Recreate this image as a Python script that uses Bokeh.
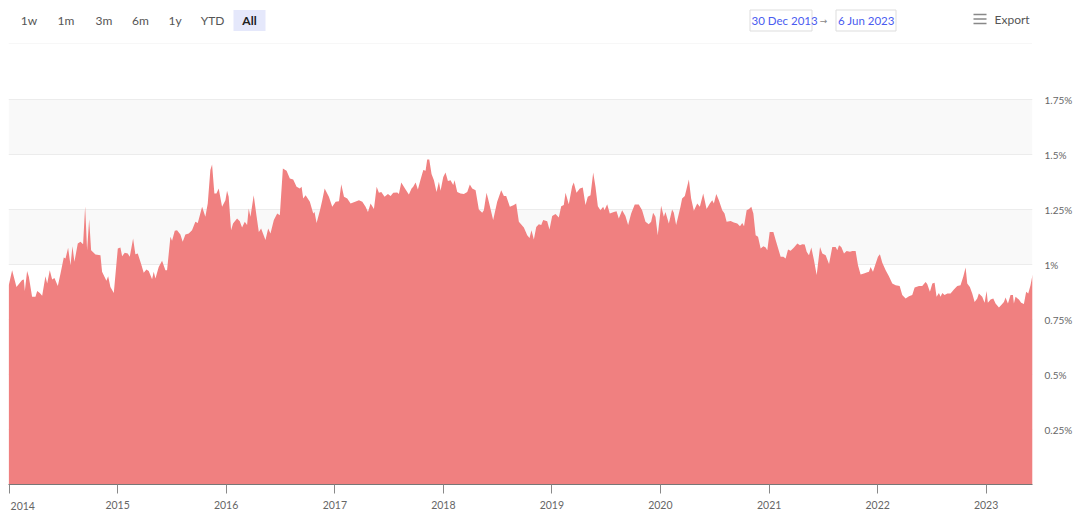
import math
from datetime import datetime
from bokeh.plotting import figure
from bokeh.layouts import column
from bokeh.models import Range1d, FixedTicker, CustomJSTickFormatter, Label, ColumnDataSource
from bokeh.core.properties import value
from bokeh.embed import file_html
from bokeh.resources import INLINE

# ---------------- data (decimal years, values in %) ----------------
dates_a = [
    2013.997, 2014.028, 2014.068, 2014.120, 2014.136, 2014.145, 2014.166, 2014.182, 2014.212, 2014.243,
    2014.259, 2014.283, 2014.305, 2014.335, 2014.351, 2014.375, 2014.397, 2014.418, 2014.449, 2014.474,
    2014.504, 2014.520, 2014.544, 2014.566, 2014.584, 2014.602, 2014.633, 2014.658, 2014.682, 2014.701,
    2014.719, 2014.738, 2014.756, 2014.796, 2014.842, 2014.857, 2014.897, 2014.913, 2014.934, 2014.965,
    2015.002, 2015.026, 2015.042, 2015.066, 2015.094, 2015.112, 2015.143, 2015.164, 2015.186, 2015.217,
    2015.241, 2015.266, 2015.287, 2015.318, 2015.333, 2015.349, 2015.379, 2015.410, 2015.441, 2015.456,
    2015.487, 2015.502, 2015.527, 2015.548, 2015.579, 2015.600, 2015.625, 2015.656, 2015.686, 2015.717,
    2015.739, 2015.779, 2015.809, 2015.831, 2015.855, 2015.871, 2015.892, 2015.911, 2015.932, 2015.963,
    2015.994, 2016.009, 2016.024, 2016.046, 2016.064, 2016.101, 2016.126, 2016.147, 2016.172, 2016.193,
    2016.208, 2016.224, 2016.254, 2016.279, 2016.301, 2016.322, 2016.362, 2016.387, 2016.408, 2016.439,
    2016.470, 2016.494, 2016.522, 2016.556, 2016.586, 2016.617, 2016.648, 2016.678, 2016.694, 2016.709,
    2016.731, 2016.770, 2016.801, 2016.813, 2016.832, 2016.863, 2016.884, 2016.906, 2016.945, 2016.976,
    2017.007, 2017.038, 2017.059, 2017.084, 2017.114, 2017.145,
]
values_a = [
    0.906, 0.974, 0.898, 0.929, 0.932, 0.880, 0.971, 0.944, 0.853, 0.853,
    0.880, 0.871, 0.858, 0.947, 0.914, 0.974, 0.932, 0.939, 0.902, 0.959,
    1.032, 1.027, 1.076, 0.997, 1.083, 1.012, 1.095, 1.103, 1.092, 1.265,
    1.065, 1.206, 1.065, 1.045, 1.042, 0.967, 0.926, 0.947, 0.898, 0.871,
    1.073, 1.077, 1.038, 1.053, 1.050, 1.035, 1.118, 1.047, 1.050, 1.002,
    0.962, 0.977, 0.971, 0.933, 0.967, 0.936, 0.989, 1.017, 0.974, 0.974,
    1.126, 1.108, 1.153, 1.156, 1.136, 1.103, 1.136, 1.141, 1.156, 1.194,
    1.189, 1.262, 1.217, 1.277, 1.429, 1.455, 1.323, 1.323, 1.345, 1.262,
    1.292, 1.335, 1.308, 1.156, 1.186, 1.209, 1.197, 1.168, 1.194, 1.179,
    1.255, 1.217, 1.315, 1.224, 1.148, 1.164, 1.111, 1.164, 1.141, 1.202,
    1.232, 1.224, 1.436, 1.426, 1.391, 1.386, 1.353, 1.345, 1.353, 1.300,
    1.315, 1.285, 1.232, 1.239, 1.189, 1.247, 1.292, 1.345, 1.308, 1.262,
    1.285, 1.288, 1.365, 1.308, 1.300, 1.277,
]
dates_b = [
    2017.222, 2017.253, 2017.283, 2017.305, 2017.329, 2017.360, 2017.385, 2017.406, 2017.428, 2017.458,
    2017.489, 2017.514, 2017.538, 2017.575, 2017.590, 2017.612, 2017.652, 2017.682, 2017.707, 2017.722,
    2017.744, 2017.765, 2017.790, 2017.815, 2017.836, 2017.851, 2017.870, 2017.891, 2017.913, 2017.937,
    2017.959, 2017.974, 2017.999, 2018.020, 2018.042, 2018.066, 2018.091, 2018.103, 2018.128, 2018.158,
    2018.189, 2018.220, 2018.244, 2018.266, 2018.297, 2018.327, 2018.358, 2018.373, 2018.398, 2018.419,
    2018.459, 2018.496, 2018.533, 2018.558, 2018.579, 2018.613, 2018.650, 2018.671, 2018.696, 2018.742,
    2018.773, 2018.794, 2018.812, 2018.834, 2018.856, 2018.880, 2018.902, 2018.920, 2018.957, 2018.978,
    2019.003, 2019.034, 2019.064, 2019.086, 2019.110, 2019.126, 2019.156, 2019.187, 2019.202, 2019.227,
    2019.258, 2019.285, 2019.310, 2019.331, 2019.356, 2019.381, 2019.402, 2019.424, 2019.448, 2019.473,
    2019.485, 2019.510, 2019.534, 2019.571, 2019.596, 2019.617, 2019.648, 2019.678, 2019.703, 2019.731,
    2019.764, 2019.801, 2019.832, 2019.863, 2019.893, 2019.915, 2019.933, 2019.955, 2019.976, 2020.007,
    2020.032, 2020.047, 2020.078, 2020.108, 2020.124, 2020.145, 2020.185, 2020.200, 2020.225, 2020.262,
    2020.283, 2020.308, 2020.339, 2020.363,
]
values_b = [
    1.292, 1.285, 1.262, 1.239, 1.277, 1.252, 1.353, 1.326, 1.330, 1.308,
    1.320, 1.311, 1.326, 1.327, 1.320, 1.373, 1.341, 1.318, 1.345, 1.353,
    1.373, 1.341, 1.386, 1.429, 1.426, 1.477, 1.477, 1.411, 1.383, 1.330,
    1.376, 1.335, 1.398, 1.418, 1.380, 1.383, 1.361, 1.383, 1.330, 1.323,
    1.320, 1.330, 1.364, 1.345, 1.338, 1.250, 1.235, 1.247, 1.326, 1.285,
    1.202, 1.285, 1.338, 1.311, 1.311, 1.262, 1.270, 1.277, 1.194, 1.168,
    1.133, 1.121, 1.156, 1.114, 1.171, 1.183, 1.179, 1.202, 1.197, 1.159,
    1.220, 1.229, 1.214, 1.265, 1.270, 1.326, 1.274, 1.356, 1.373, 1.326,
    1.345, 1.350, 1.270, 1.308, 1.315, 1.418, 1.353, 1.265, 1.247, 1.262,
    1.247, 1.274, 1.232, 1.239, 1.242, 1.209, 1.247, 1.220, 1.179, 1.232,
    1.273, 1.273, 1.247, 1.194, 1.183, 1.194, 1.235, 1.217, 1.133, 1.267,
    1.217, 1.239, 1.186, 1.250, 1.235, 1.179, 1.262, 1.300, 1.311, 1.386,
    1.300, 1.244, 1.277, 1.262,
]
dates_c = [
    2020.394, 2020.425, 2020.455, 2020.477, 2020.492, 2020.514, 2020.538, 2020.569, 2020.590, 2020.609,
    2020.646, 2020.676, 2020.707, 2020.732, 2020.753, 2020.769, 2020.793, 2020.815, 2020.836, 2020.855,
    2020.876, 2020.898, 2020.922, 2020.947, 2020.968, 2020.983, 2021.005, 2021.039, 2021.060, 2021.106,
    2021.131, 2021.152, 2021.174, 2021.198, 2021.229, 2021.260, 2021.284, 2021.306, 2021.328, 2021.346,
    2021.367, 2021.389, 2021.413, 2021.438, 2021.469, 2021.490, 2021.521, 2021.552, 2021.582, 2021.613,
    2021.628, 2021.644, 2021.665, 2021.690, 2021.714, 2021.745, 2021.767, 2021.797, 2021.819, 2021.843,
    2021.874, 2021.905, 2021.920, 2021.935, 2021.957, 2021.982, 2022.003, 2022.021, 2022.043, 2022.074,
    2022.104, 2022.135, 2022.166, 2022.203, 2022.227, 2022.258, 2022.289, 2022.319, 2022.341, 2022.381,
    2022.411, 2022.442, 2022.457, 2022.482, 2022.504, 2022.525, 2022.543, 2022.565, 2022.580, 2022.596,
    2022.617, 2022.642, 2022.672, 2022.703, 2022.734, 2022.764, 2022.789, 2022.811, 2022.826, 2022.850,
    2022.872, 2022.894, 2022.918, 2022.933, 2022.964, 2022.986, 2023.004, 2023.016, 2023.041, 2023.066,
    2023.087, 2023.118, 2023.148, 2023.164, 2023.179, 2023.201, 2023.225, 2023.247, 2023.256, 2023.271,
    2023.302, 2023.323, 2023.348, 2023.369, 2023.388, 2023.409, 2023.428,
]
values_c = [
    1.323, 1.252, 1.277, 1.292, 1.277, 1.320, 1.292, 1.247, 1.232, 1.194,
    1.198, 1.191, 1.186, 1.174, 1.189, 1.174, 1.247, 1.252, 1.262, 1.232,
    1.133, 1.126, 1.073, 1.083, 1.077, 1.065, 1.148, 1.148, 1.111, 1.035,
    1.035, 1.027, 1.068, 1.062, 1.077, 1.095, 1.088, 1.092, 1.091, 1.058,
    1.042, 1.077, 1.020, 0.952, 1.080, 1.050, 1.042, 1.002, 1.080, 1.080,
    1.065, 1.088, 1.080, 1.050, 1.061, 1.058, 1.061, 1.061, 0.997, 0.955,
    0.959, 0.965, 0.967, 0.989, 0.967, 1.005, 1.035, 1.047, 1.008, 0.974,
    0.947, 0.914, 0.906, 0.902, 0.861, 0.845, 0.856, 0.861, 0.895, 0.902,
    0.902, 0.921, 0.911, 0.876, 0.914, 0.917, 0.853, 0.871, 0.853, 0.871,
    0.861, 0.868, 0.868, 0.886, 0.902, 0.906, 0.944, 0.986, 0.914, 0.898,
    0.868, 0.830, 0.845, 0.868, 0.853, 0.826, 0.879, 0.826, 0.841, 0.845,
    0.823, 0.805, 0.820, 0.830, 0.850, 0.823, 0.861, 0.861, 0.823, 0.853,
    0.841, 0.826, 0.820, 0.876, 0.868, 0.906, 0.955,
]

x_tick_years = [2014, 2015, 2016, 2017, 2018, 2019, 2020, 2021, 2022, 2023]
y_tick_values = [0.25, 0.5, 0.75, 1.0, 1.25, 1.5, 1.75]
range_buttons = ["1w", "1m", "3m", "6m", "1y", "YTD", "All"]
date_from = "30 Dec 2013"
date_to = "6 Jun 2023"

# ---------------- helpers ----------------
def dec_year(d):
    y = int(math.floor(d))
    a = datetime(y, 1, 1)
    b = datetime(y + 1, 1, 1)
    return a + (b - a) * (d - y)

EPOCH = datetime(1970, 1, 1)
def ms(dt):
    return (dt - EPOCH).total_seconds() * 1000.0

dates = [dec_year(d) for d in dates_a + dates_b + dates_c]
vals = values_a + values_b + values_c
src = ColumnDataSource(dict(date=dates, val=vals))

FONT = "Lato"
AREA = "#f08080"
X0 = datetime(2013, 12, 30)
X1 = datetime(2023, 6, 6)
Y_MAX = 2.0
FRAME_H = 440

# ---------------- main chart ----------------
p = figure(frame_width=1024, frame_height=FRAME_H, x_axis_type="datetime",
           y_axis_location="right",
           x_range=Range1d(X0, X1), y_range=Range1d(0, Y_MAX),
           output_backend="svg", toolbar_location=None,
           min_border_left=8, min_border_top=0, min_border_right=0, min_border_bottom=0)
p.outline_line_color = None
p.background_fill_color = "white"
p.border_fill_color = "white"

# alternating light bands between tick pairs, drawn under the grid lines
band_bottoms = y_tick_values[1::2]
band_tops = y_tick_values[2::2]
p.quad(left=[X0] * len(band_tops), right=[X1] * len(band_tops),
       bottom=band_bottoms[:len(band_tops)], top=band_tops,
       fill_color="#f9f9f9", line_color=None, level="image")

p.varea(x="date", y1=0, y2="val", source=src, fill_color=AREA, fill_alpha=1.0)

p.xgrid.visible = False
p.ygrid.ticker = FixedTicker(ticks=y_tick_values)
p.ygrid.grid_line_color = "#ececec"

x_ticks = [ms(datetime(y, 1, 1)) for y in x_tick_years]
xa = p.xaxis[0]
xa.ticker = FixedTicker(ticks=x_ticks)
xa.formatter = CustomJSTickFormatter(args=dict(first=x_tick_years[0]), code="""
    const y = new Date(tick).getUTCFullYear();
    return (y == first) ? "" : String(y);
""")
xa.axis_line_color = "#777777"
xa.major_tick_line_color = "#888888"
xa.major_tick_out = 9
xa.major_tick_in = 0
xa.minor_tick_line_color = None
xa.major_label_text_font = FONT
xa.major_label_text_font_size = "10.5px"
xa.major_label_text_color = "#666666"
xa.major_label_standoff = 7

# first year label: left-aligned at its tick (the axis would centre it off the page)
label_dy = -21.0 * Y_MAX / FRAME_H   # 21 px below the axis line, in data units
p.text(x=[x_ticks[0]], y=[label_dy], text=[str(x_tick_years[0])], x_offset=1.5,
       text_align="left", text_baseline="middle", text_font=value(FONT),
       text_font_size="10.5px", text_color="#666666", level="overlay")

ya = p.yaxis[0]
ya.ticker = FixedTicker(ticks=y_tick_values)
ya.formatter = CustomJSTickFormatter(code="return tick + '%';")
ya.axis_line_color = None
ya.major_tick_line_color = None
ya.minor_tick_line_color = None
ya.major_label_text_font = FONT
ya.major_label_text_font_size = "10px"
ya.major_label_text_color = "#666666"
ya.major_label_standoff = 6

# ---------------- header (range selector, dates, export) ----------------
h = figure(frame_width=1024, frame_height=44, x_range=Range1d(8, 1032), y_range=Range1d(44, 0),
           output_backend="svg", toolbar_location=None,
           min_border_left=8, min_border_top=0, min_border_right=0, min_border_bottom=0,
           x_axis_type=None, y_axis_type=None)
h.outline_line_color = None
h.grid.visible = False

btn_x = [28.5, 65.5, 103.5, 140, 174.5, 212, 249]
# highlighted "All" button
h.quad(left=[233], right=[265], top=[9.5], bottom=[30.5], fill_color="#e5e8fb", line_color=None)
h.text(x=btn_x[:-1], y=[20] * 6, text=range_buttons[:-1], text_align="center",
       text_baseline="middle", text_font=value(FONT), text_font_size="12px", text_color="#555555")
h.text(x=[btn_x[-1]], y=[20], text=[range_buttons[-1]], text_align="center",
       text_baseline="middle", text_font=value(FONT), text_font_size="12px",
       text_font_style="bold", text_color="#222222")

# date inputs
h.quad(left=[749.5, 835.5], right=[811.5, 895.5], top=[9.5, 9.5], bottom=[30.5, 30.5],
       fill_color=None, line_color="#dddddd", line_width=1)
h.text(x=[751, 837.5], y=[20, 20], text=[date_from, date_to], text_align="left",
       text_baseline="middle", text_font=value(FONT), text_font_size="11.5px", text_color="#4a5cf0")
h.text(x=[823], y=[20.5], text=["\u2192"], text_align="center", text_baseline="middle",
       text_font=value("DejaVu Sans"), text_font_size="9px", text_color="#888888")

# export
h.segment(x0=[973, 973, 973], x1=[986, 986, 986], y0=[14, 18.5, 23], y1=[14, 18.5, 23],
          line_color="#888888", line_width=1.3)
h.text(x=[994], y=[18.5], text=["Export"], text_align="left", text_baseline="middle",
       text_font=value(FONT), text_font_size="12px", text_color="#555555")

# divider line on top of the plot
h.segment(x0=[8], x1=[1032], y0=[43.5], y1=[43.5], line_color="#eeeeee", line_width=1)

layout = column(h, p, spacing=0)
open("out.html", "w").write(file_html(layout, INLINE))
